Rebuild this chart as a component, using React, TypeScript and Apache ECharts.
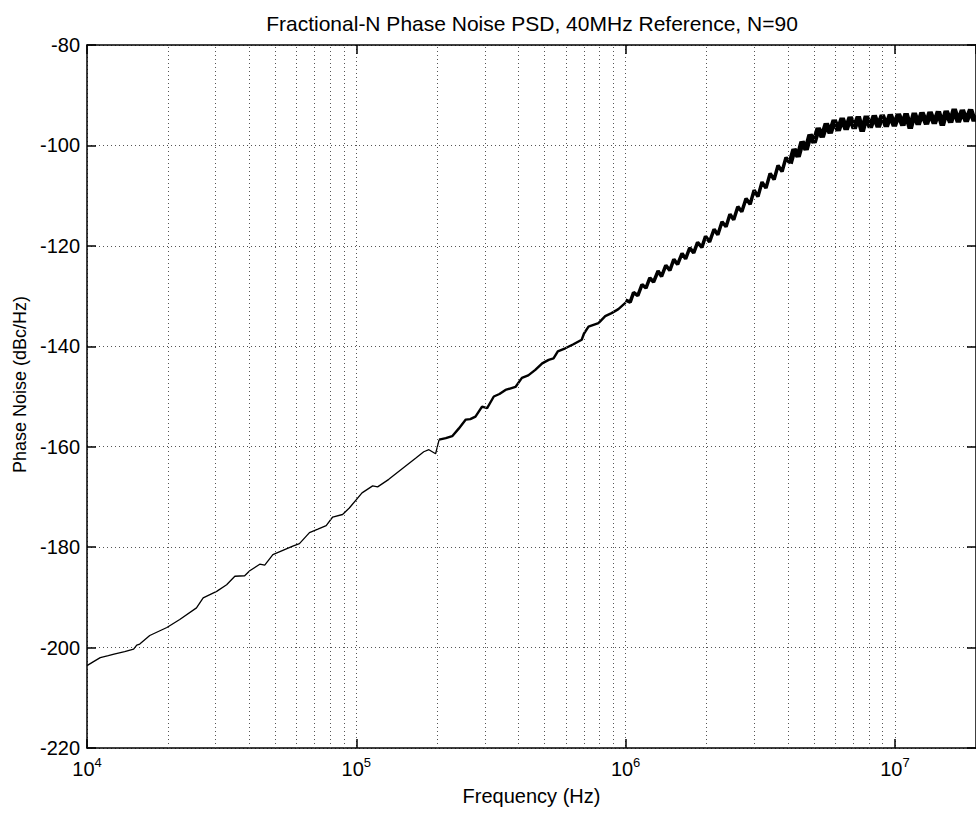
import React, { useEffect, useRef } from "react";
import * as echarts from "echarts";

// ---- data ----
const titleText = "Fractional-N Phase Noise PSD, 40MHz Reference, N=90";
const xAxisName = "Frequency (Hz)";
const yAxisName = "Phase Noise (dBc/Hz)";

const yTicks = { min: -220, max: -80, step: 20 };
const xRange = { min: 1e4, max: 2e7 };

// minor grid frequencies (2..9 x decade)
const minorGridFreqs = [
  2e4, 3e4, 4e4, 5e4, 6e4, 7e4, 8e4, 9e4,
  2e5, 3e5, 4e5, 5e5, 6e5, 7e5, 8e5, 9e5,
  2e6, 3e6, 4e6, 5e6, 6e6, 7e6, 8e6, 9e6,
];

// low-frequency part (thin trace)
const freqLow = [
  10000, 10500, 11200, 12000, 12600, 13800, 14900, 15300, 15700, 17100, 19800,
  22100, 25500, 27000, 30300, 33000, 35400, 38500, 40200, 43800, 45700, 49000,
  58100, 61500, 67000, 72000, 77300, 81700, 88900, 94200, 105000, 115000,
  120000, 132000, 148000, 166000, 178000, 186000, 197000, 203000,
];
const dbLow = [
  -203.6, -202.9, -202.0, -201.6, -201.3, -200.8, -200.3, -199.5, -199.3, -197.6, -196.0,
  -194.4, -192.1, -190.1, -188.8, -187.5, -185.8, -185.7, -184.7, -183.4, -183.6, -181.5,
  -179.8, -179.3, -177.1, -176.4, -175.7, -174.0, -173.5, -172.2, -169.2, -167.8,
  -168.0, -166.5, -164.4, -162.3, -161.0, -160.6, -161.4, -158.6,
];

// middle part (slightly noisier)
const freqMid = [
  203000, 215000, 227000, 240000, 255000, 265000, 277000, 293000, 306000, 324000,
  340000, 358000, 390000, 412000, 435000, 462000, 490000, 518000, 540000, 560000,
  597000, 640000, 687000, 700000, 728000, 793000, 840000, 887000, 940000, 1000000,
];
const dbMid = [
  -158.6, -158.3, -157.9, -156.4, -154.6, -154.5, -154.0, -152.0, -152.3, -150.0,
  -149.5, -148.7, -148.1, -146.3, -145.8, -144.7, -143.4, -142.7, -142.4, -141.0,
  -140.4, -139.6, -138.7, -137.5, -136.1, -135.4, -134.0, -133.4, -132.6, -131.3,
];

// 1 MHz .. 4 MHz (noisy, rising)
const freqHigh1 = [
  1.00e6, 1.04e6, 1.07e6, 1.11e6, 1.15e6, 1.19e6, 1.23e6, 1.27e6, 1.32e6, 1.36e6,
  1.41e6, 1.46e6, 1.51e6, 1.56e6, 1.62e6, 1.67e6, 1.73e6, 1.79e6, 1.85e6, 1.92e6,
  1.98e6, 2.05e6, 2.13e6, 2.20e6, 2.28e6, 2.36e6, 2.44e6, 2.52e6, 2.61e6, 2.70e6,
  2.80e6, 2.90e6, 3.00e6, 3.10e6, 3.21e6, 3.32e6, 3.44e6, 3.56e6, 3.68e6, 3.81e6,
  3.94e6, 4.08e6,
];
const dbHigh1 = [
  -130.8, -131.2, -129.3, -129.9, -127.7, -128.4, -126.4, -127.2, -125.0, -126.1,
  -123.9, -124.9, -122.7, -123.7, -121.5, -122.6, -120.4, -121.4, -119.3, -120.3,
  -118.1, -119.2, -116.7, -117.8, -115.2, -116.2, -113.7, -114.8, -112.2, -113.2,
  -110.6, -111.7, -108.9, -110.2, -107.3, -108.5, -105.6, -106.8, -104.0, -105.2,
  -102.4, -103.6,
];

// 4 MHz .. 20 MHz (knee and flat noisy band)
const freqHigh2 = [
  4.08e6, 4.22e6, 4.37e6, 4.52e6, 4.68e6, 4.84e6, 5.01e6, 5.19e6, 5.37e6, 5.56e6,
  5.75e6, 5.95e6, 6.16e6, 6.37e6, 6.59e6, 6.82e6, 7.06e6, 7.31e6, 7.56e6, 7.83e6,
  8.10e6, 8.38e6, 8.67e6, 8.97e6, 9.29e6, 9.61e6, 9.95e6, 1.03e7, 1.07e7, 1.10e7,
  1.14e7, 1.18e7, 1.22e7, 1.26e7, 1.31e7, 1.35e7, 1.40e7, 1.45e7, 1.50e7, 1.55e7,
  1.61e7, 1.66e7, 1.72e7, 1.78e7, 1.84e7, 1.91e7, 1.97e7, 2.00e7,
];
const dbHigh2 = [
  -103.6, -100.8, -102.2, -99.3, -100.8, -97.9, -99.4, -96.6, -98.3, -95.7,
  -97.5, -95.0, -97.0, -94.6, -96.8, -94.4, -96.6, -94.3, -97.2, -94.2,
  -96.4, -94.1, -96.3, -94.0, -96.2, -93.9, -96.1, -93.8, -96.0, -93.7,
  -96.6, -93.6, -95.8, -93.5, -95.7, -93.4, -95.6, -93.3, -96.0, -93.2,
  -95.4, -92.8, -95.3, -93.0, -95.2, -92.9, -95.1, -94.0,
];

const FONT = "'Liberation Sans', Arial, Helvetica, sans-serif";
const gridLine = { color: "#555", width: 1, type: [1, 3] as number[] };

function pairs(xs: number[], ys: number[]) {
  return xs.map((x, i) => [x, ys[i]]);
}

export default function App() {
  const ref = useRef<HTMLDivElement>(null);
  useEffect(() => {
    if (!ref.current) return;
    const chart = echarts.init(ref.current, undefined, { renderer: "svg" });
    const lineBase = { type: "line" as const, showSymbol: false, symbol: "none", xAxisIndex: 0, yAxisIndex: 0, silent: true };
    chart.setOption({
      animation: false,
      backgroundColor: "#fff",
      textStyle: { fontFamily: FONT, color: "#000" },
      title: {
        text: titleText,
        left: 527,
        textAlign: "center",
        top: 8,
        textStyle: { fontFamily: FONT, fontSize: 21, fontWeight: "normal", color: "#000" },
      },
      grid: { left: 87, top: 45, right: -3, bottom: 66, containLabel: false },
      xAxis: [
        {
          type: "log",
          logBase: 10,
          min: xRange.min,
          max: xRange.max,
          position: "bottom",
          name: xAxisName,
          nameLocation: "middle",
          nameGap: 38,
          nameTextStyle: { fontFamily: FONT, fontSize: 20, color: "#000" },
          axisLine: { show: true, lineStyle: { color: "#000", width: 1.5 } },
          axisTick: { show: true, inside: true, length: 9, lineStyle: { color: "#000", width: 1.5 } },
          axisLabel: {
            showMaxLabel: false,
            margin: 8,
            formatter: (v: number) => `{b|10}{s|${Math.round(Math.log10(v))}}`,
            rich: {
              b: { fontFamily: FONT, fontSize: 20, color: "#000" },
              s: { fontFamily: FONT, fontSize: 13, color: "#000", verticalAlign: "bottom", padding: [0, 0, 12, 0] },
            },
          },
          splitLine: { show: true, lineStyle: gridLine },
        },
        {
          type: "log",
          logBase: 10,
          min: xRange.min,
          max: xRange.max,
          position: "top",
          axisLine: { show: true, lineStyle: { color: "#000", width: 1.5 } },
          axisTick: { show: true, inside: true, length: 9, lineStyle: { color: "#000", width: 1.5 } },
          axisLabel: { show: false },
          splitLine: { show: false },
        },
      ],
      yAxis: [
        {
          type: "value",
          min: yTicks.min,
          max: yTicks.max,
          interval: yTicks.step,
          position: "left",
          name: yAxisName,
          nameLocation: "middle",
          nameGap: 48,
          nameTextStyle: { fontFamily: FONT, fontSize: 18, color: "#000", padding: [0, 0, 0, 24] },
          axisLine: { show: true, lineStyle: { color: "#000", width: 1.5 } },
          axisTick: { show: true, inside: true, length: 9, lineStyle: { color: "#000", width: 1.5 } },
          axisLabel: { fontFamily: FONT, fontSize: 20, color: "#000", margin: 7 },
          splitLine: { show: true, lineStyle: gridLine },
        },
        {
          type: "value",
          min: yTicks.min,
          max: yTicks.max,
          interval: yTicks.step,
          position: "right",
          axisLine: { show: true, lineStyle: { color: "#000", width: 1.5 } },
          axisTick: { show: true, inside: true, length: 9, lineStyle: { color: "#000", width: 1.5 } },
          axisLabel: { show: false },
          splitLine: { show: false },
        },
      ],
      series: [
        {
          ...lineBase,
          name: "PSD low",
          data: pairs(freqLow, dbLow),
          lineStyle: { color: "#000", width: 1.3 },
          markLine: {
            silent: true,
            symbol: ["none", "none"],
            label: { show: false },
            lineStyle: gridLine,
            data: minorGridFreqs.map((f) => ({ xAxis: f })),
          },
        },
        {
          ...lineBase,
          name: "PSD mid",
          data: pairs(freqMid, dbMid),
          lineStyle: { color: "#000", width: 2.4 },
        },
        {
          ...lineBase,
          name: "PSD high 1",
          data: pairs(freqHigh1, dbHigh1),
          lineStyle: { color: "#000", width: 3.5 },
        },
        {
          ...lineBase,
          name: "PSD high 2",
          data: pairs(freqHigh2, dbHigh2),
          lineStyle: { color: "#000", width: 5.5 },
        },
      ],
    });
    return () => chart.dispose();
  }, []);
  return (
    <div
      ref={ref}
      style={{ position: "fixed", left: 0, top: 0, width: 976, height: 814, background: "#fff" }}
    />
  );
}
